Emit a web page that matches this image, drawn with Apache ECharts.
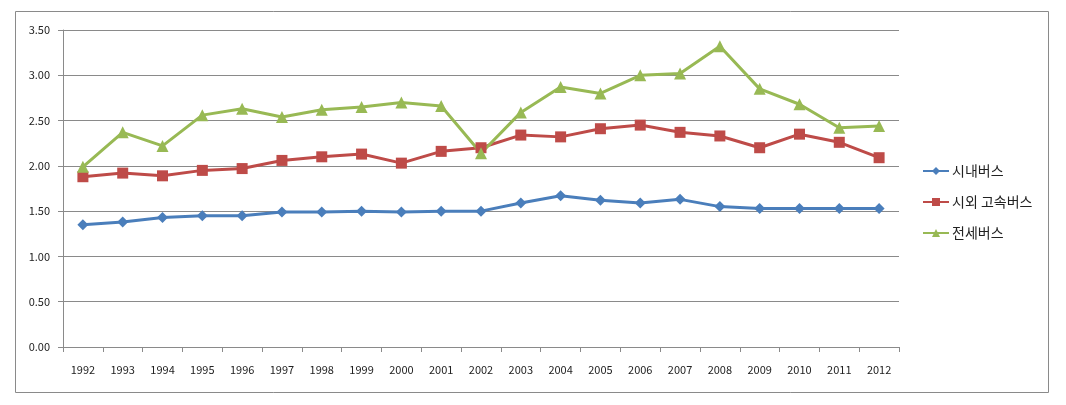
<!DOCTYPE html>
<html><head><meta charset="utf-8">
<script src="https://cdn.jsdelivr.net/npm/echarts@6/dist/echarts.min.js"></script>
<style>html,body{margin:0;padding:0;background:#fff}#c{width:1066px;height:405px}</style>
</head><body><div id="c"></div>
<script>
var years = ['1992','1993','1994','1995','1996','1997','1998','1999','2000','2001','2002','2003','2004','2005','2006','2007','2008','2009','2010','2011','2012'];
var cityBus = [1.35,1.38,1.43,1.45,1.45,1.49,1.49,1.50,1.49,1.50,1.50,1.59,1.67,1.62,1.59,1.63,1.55,1.53,1.53,1.53,1.53];
var intercityBus = [1.88,1.92,1.89,1.95,1.97,2.06,2.10,2.13,2.03,2.16,2.20,2.34,2.32,2.41,2.45,2.37,2.33,2.20,2.35,2.26,2.09];
var charterBus = [1.99,2.37,2.22,2.56,2.63,2.54,2.62,2.65,2.70,2.66,2.14,2.59,2.87,2.80,3.00,3.02,3.32,2.85,2.68,2.42,2.44];
var seriesNames = ['시내버스','시외 고속버스','전세버스'];

var chart = echarts.init(document.getElementById('c'));
var font = '"Noto Sans CJK KR", "Liberation Sans", sans-serif';
chart.setOption({
  animation: false,
  textStyle: {fontFamily: font},
  graphic: [{type:'rect', shape:{x:15.5,y:11.5,width:1033,height:381}, style:{fill:'none', stroke:'#8a8a8a', lineWidth:1}}],
  grid: {left: 63, top: 30, width: 836, height: 317, containLabel: false},
  legend: {
    orient: 'vertical', left: 917, top: 159, itemGap: 17, itemWidth: 26, itemHeight: 10,
    textStyle: {fontSize: 14, color: '#222', fontFamily: font, padding: [0,0,0,-2]},
    data: seriesNames
  },
  xAxis: {
    type: 'category', data: years, boundaryGap: true,
    axisLine: {lineStyle: {color: '#8a8a8a'}},
    axisTick: {show: true, length: 5, lineStyle: {color: '#8a8a8a'}},
    axisLabel: {fontSize: 11, color: '#222', margin: 17, fontFamily: font}
  },
  yAxis: {
    type: 'value', min: 0, max: 3.5, interval: 0.5,
    axisLine: {show: true, lineStyle: {color: '#8a8a8a'}},
    axisTick: {show: true, length: 5, lineStyle: {color: '#8a8a8a'}},
    splitLine: {lineStyle: {color: '#8a8a8a'}},
    axisLabel: {fontSize: 11, color: '#222', margin: 13, fontFamily: font, formatter: function(v){return v.toFixed(2);}}
  },
  series: [
    {name: seriesNames[0], type: 'line', data: cityBus, symbol: 'diamond', symbolSize: 11,
     lineStyle: {width: 3, color: '#4a7ebb'}, itemStyle: {color: '#4a7ebb'}},
    {name: seriesNames[1], type: 'line', data: intercityBus, symbol: 'rect', symbolSize: 11,
     lineStyle: {width: 3, color: '#be4b48'}, itemStyle: {color: '#be4b48'}},
    {name: seriesNames[2], type: 'line', data: charterBus, symbol: 'triangle', symbolSize: 12,
     lineStyle: {width: 3, color: '#98b954'}, itemStyle: {color: '#98b954'}}
  ]
});
</script></body></html>
